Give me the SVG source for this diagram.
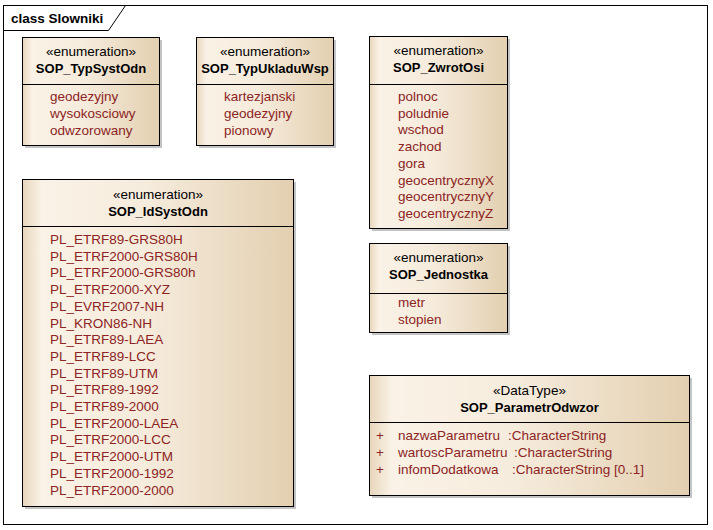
<svg xmlns="http://www.w3.org/2000/svg" width="713" height="530" viewBox="0 0 713 530">
<defs>
<linearGradient id="g" x1="0" y1="0" x2="1" y2="0">
<stop offset="0" stop-color="#e8d6bc"/>
<stop offset="0.07" stop-color="#faf2e6"/>
<stop offset="0.45" stop-color="#f6ecdd"/>
<stop offset="1" stop-color="#e3cfb0"/>
</linearGradient>
<style>
.bg{fill:#ffffff}
.frame{fill:none;stroke:#000;stroke-width:1}
.sh{fill:#c4c4c4}
.box{fill:url(#g);stroke:#000;stroke-width:1}
.div{stroke:#000;stroke-width:1}
text{font-family:"Liberation Sans",Arial,sans-serif;font-size:13.5px}
.st{text-anchor:middle;fill:#000}
.nm{text-anchor:middle;fill:#000;font-weight:bold;font-size:13px}
.at{fill:#8c2424}
.title{font-weight:bold;font-size:13.5px;fill:#000}
</style>
</defs>
<rect class="bg" x="0" y="0" width="713" height="530"/>
<g id="frame">
<rect class="frame" x="3.5" y="5.5" width="704" height="519"/>
<path class="frame" d="M3.5 30.5 H108.5 L125.5 5.5"/>
<text class="title" x="11" y="23">class Slowniki</text>
</g>
<g id="connectors"></g>
<g id="SOP_TypSystOdn">
<rect class="sh" x="25" y="40" width="137" height="108"/>
<rect class="box" x="22.5" y="37.5" width="137" height="108"/>
<line class="div" x1="22.5" y1="84.5" x2="159.5" y2="84.5"/>
<text class="st" x="91" y="56">«enumeration»</text>
<text class="nm" x="91" y="73">SOP_TypSystOdn</text>
<text class="at" x="50" y="101">geodezyjny</text>
<text class="at" x="50" y="118">wysokosciowy</text>
<text class="at" x="50" y="135">odwzorowany</text>
</g>
<g id="SOP_TypUkladuWsp">
<rect class="sh" x="199" y="40" width="137" height="108"/>
<rect class="box" x="196.5" y="37.5" width="137" height="108"/>
<line class="div" x1="196.5" y1="84.5" x2="333.5" y2="84.5"/>
<text class="st" x="265" y="56">«enumeration»</text>
<text class="nm" x="265" y="73">SOP_TypUkladuWsp</text>
<text class="at" x="224" y="101">kartezjanski</text>
<text class="at" x="224" y="118">geodezyjny</text>
<text class="at" x="224" y="135">pionowy</text>
</g>
<g id="SOP_ZwrotOsi">
<rect class="sh" x="372" y="39" width="138" height="192"/>
<rect class="box" x="369.5" y="36.5" width="138" height="192"/>
<line class="div" x1="369.5" y1="84.5" x2="507.5" y2="84.5"/>
<text class="st" x="438.5" y="55">«enumeration»</text>
<text class="nm" x="438.5" y="72">SOP_ZwrotOsi</text>
<text class="at" x="398" y="101">polnoc</text>
<text class="at" x="398" y="117.7">poludnie</text>
<text class="at" x="398" y="134.4">wschod</text>
<text class="at" x="398" y="151.1">zachod</text>
<text class="at" x="398" y="167.8">gora</text>
<text class="at" x="398" y="184.5">geocentrycznyX</text>
<text class="at" x="398" y="201.2">geocentrycznyY</text>
<text class="at" x="398" y="217.9">geocentrycznyZ</text>
</g>
<g id="SOP_Jednostka">
<rect class="sh" x="372" y="246" width="138" height="89"/>
<rect class="box" x="369.5" y="243.5" width="138" height="89"/>
<line class="div" x1="369.5" y1="293.5" x2="507.5" y2="293.5"/>
<text class="st" x="438.5" y="262">«enumeration»</text>
<text class="nm" x="438.5" y="279">SOP_Jednostka</text>
<text class="at" x="398" y="307">metr</text>
<text class="at" x="398" y="324">stopien</text>
</g>
<g id="SOP_IdSystOdn">
<rect class="sh" x="25" y="182" width="271" height="327"/>
<rect class="box" x="22.5" y="179.5" width="271" height="327"/>
<line class="div" x1="22.5" y1="226.5" x2="293.5" y2="226.5"/>
<text class="st" x="158" y="199">«enumeration»</text>
<text class="nm" x="158" y="216">SOP_IdSystOdn</text>
<g style="font-size:13.9px">
<text class="at" x="50" y="244">PL_ETRF89-GRS80H</text>
<text class="at" x="50" y="260.7">PL_ETRF2000-GRS80H</text>
<text class="at" x="50" y="277.4">PL_ETRF2000-GRS80h</text>
<text class="at" x="50" y="294.1">PL_ETRF2000-XYZ</text>
<text class="at" x="50" y="310.8">PL_EVRF2007-NH</text>
<text class="at" x="50" y="327.5">PL_KRON86-NH</text>
<text class="at" x="50" y="344.2">PL_ETRF89-LAEA</text>
<text class="at" x="50" y="360.9">PL_ETRF89-LCC</text>
<text class="at" x="50" y="377.6">PL_ETRF89-UTM</text>
<text class="at" x="50" y="394.3">PL_ETRF89-1992</text>
<text class="at" x="50" y="411">PL_ETRF89-2000</text>
<text class="at" x="50" y="427.7">PL_ETRF2000-LAEA</text>
<text class="at" x="50" y="444.4">PL_ETRF2000-LCC</text>
<text class="at" x="50" y="461.1">PL_ETRF2000-UTM</text>
<text class="at" x="50" y="477.8">PL_ETRF2000-1992</text>
<text class="at" x="50" y="494.5">PL_ETRF2000-2000</text>
</g>
</g>
<g id="SOP_ParametrOdwzor">
<rect class="sh" x="372" y="378" width="320" height="120"/>
<rect class="box" x="369.5" y="375.5" width="320" height="120"/>
<line class="div" x1="369.5" y1="422.5" x2="689.5" y2="422.5"/>
<text class="st" x="529.5" y="395">«DataType»</text>
<text class="nm" x="529.5" y="412">SOP_ParametrOdwzor</text>
<text class="at" y="440"><tspan x="376">+</tspan><tspan x="398">nazwaParametru</tspan><tspan x="508">:CharacterString</tspan></text>
<text class="at" y="457"><tspan x="376">+</tspan><tspan x="398">wartoscParametru</tspan><tspan x="514">:CharacterString</tspan></text>
<text class="at" y="474"><tspan x="376">+</tspan><tspan x="398">infomDodatkowa</tspan><tspan x="512">:CharacterString [0..1]</tspan></text>
</g>
</svg>
